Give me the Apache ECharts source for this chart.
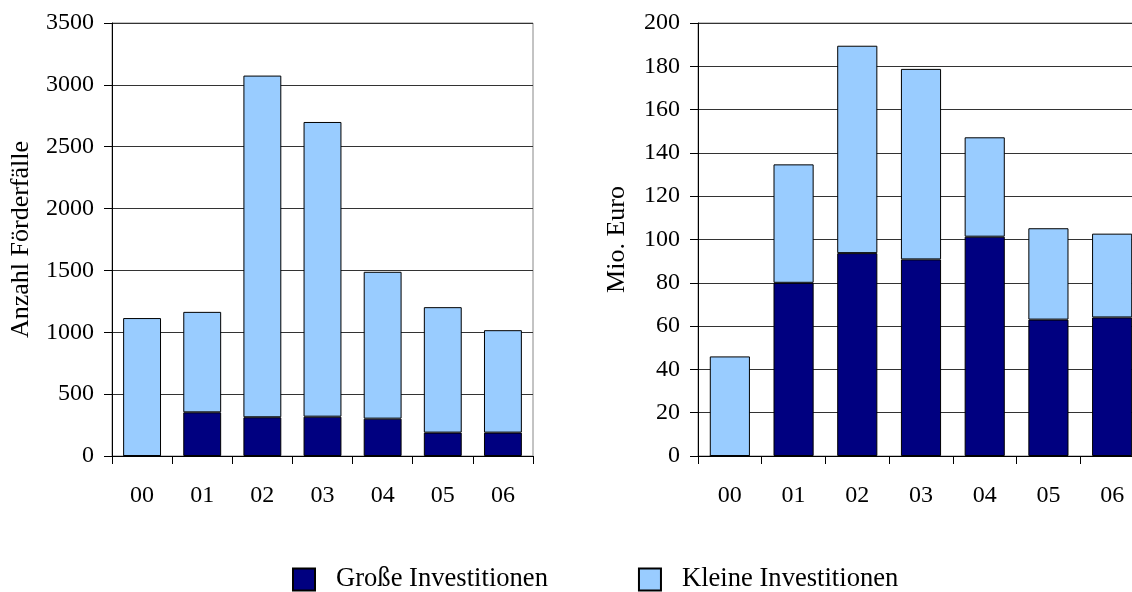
<!DOCTYPE html>
<html>
<head>
<meta charset="utf-8">
<script src="https://cdn.jsdelivr.net/npm/echarts@6/dist/echarts.min.js"></script>
<style>
  html, body { margin: 0; padding: 0; background: #fff; overflow: hidden; }
  /* the drawing is a little wider than the page; the right panel runs off the edge */
  #chart { width: 1150px; height: 592px; }
</style>
</head>
<body>
<div id="chart"></div>
<script>
// Jahrgänge (2000–2006)
const categories = ['00', '01', '02', '03', '04', '05', '06'];

// Anzahl Förderfälle
const faelleGross = [0, 353, 313, 318, 302, 189, 189];
const faelleKlein = [1115, 812, 2762, 2382, 1187, 1014, 828];

// Fördervolumen in Mio. Euro
const euroGross = [0, 80, 93.7, 90.8, 101.3, 63, 64];
const euroKlein = [46, 54.7, 95.8, 88, 45.9, 42.2, 38.7];

const seriesNames = ['Große Investitionen', 'Kleine Investitionen'];
const colorGross = '#000080';
const colorKlein = '#99CCFF';

const serif = 'Liberation Serif, Times New Roman, serif';

function xAxisFor(gridIndex) {
  return {
    type: 'category',
    gridIndex,
    data: categories,
    axisLine: { lineStyle: { color: '#000', width: 1 } },
    axisTick: { show: true, length: 8, lineStyle: { color: '#000' } },
    axisLabel: { color: '#000', fontFamily: serif, fontSize: 24, margin: 28 }
  };
}

function yAxisFor(gridIndex, max, interval, name, gap) {
  return {
    type: 'value',
    gridIndex,
    min: 0,
    max,
    interval,
    name,
    nameLocation: 'middle',
    nameGap: gap,
    nameTextStyle: { color: '#000', fontFamily: serif, fontSize: 26 },
    axisLine: { show: true, lineStyle: { color: '#000', width: 1 } },
    axisTick: { show: true, length: 8, lineStyle: { color: '#000' } },
    axisLabel: {
      color: '#000', fontFamily: serif, fontSize: 24, margin: 18,
      formatter: (v) => String(v)
    },
    splitLine: { show: true, lineStyle: { color: '#333', width: 1 } }
  };
}

function barSeries(name, data, color, axisIndex) {
  return {
    name,
    type: 'bar',
    stack: 'total' + axisIndex,
    xAxisIndex: axisIndex,
    yAxisIndex: axisIndex,
    data,
    barWidth: '63%',
    itemStyle: { color, borderColor: '#000', borderWidth: 1 },
    emphasis: { disabled: true },
    animation: false
  };
}

const chart = echarts.init(document.getElementById('chart'), null, { renderer: 'canvas' });

chart.setOption({
  backgroundColor: '#fff',
  animation: false,
  grid: [
    { left: 112, right: 617, top: 23, bottom: 136, show: true, borderColor: '#888', borderWidth: 1, backgroundColor: 'transparent' },
    { left: 698, right: 6, top: 23, bottom: 136, show: true, borderColor: '#888', borderWidth: 1, backgroundColor: 'transparent' }
  ],
  xAxis: [xAxisFor(0), xAxisFor(1)],
  yAxis: [
    yAxisFor(0, 3500, 500, 'Anzahl Förderfälle', 78),
    yAxisFor(1, 200, 20, 'Mio. Euro', 68)
  ],
  legend: {
    data: seriesNames,
    left: 287,
    top: 561,
    itemWidth: 22,
    itemHeight: 22,
    itemGap: 90,
    icon: 'rect',
    selectedMode: false,
    textStyle: { color: '#000', fontFamily: serif, fontSize: 26.6, padding: [0, 0, 0, 16] }
  },
  series: [
    barSeries(seriesNames[0], faelleGross, colorGross, 0),
    barSeries(seriesNames[1], faelleKlein, colorKlein, 0),
    barSeries(seriesNames[0], euroGross, colorGross, 1),
    barSeries(seriesNames[1], euroKlein, colorKlein, 1)
  ]
});
</script>
</body>
</html>
